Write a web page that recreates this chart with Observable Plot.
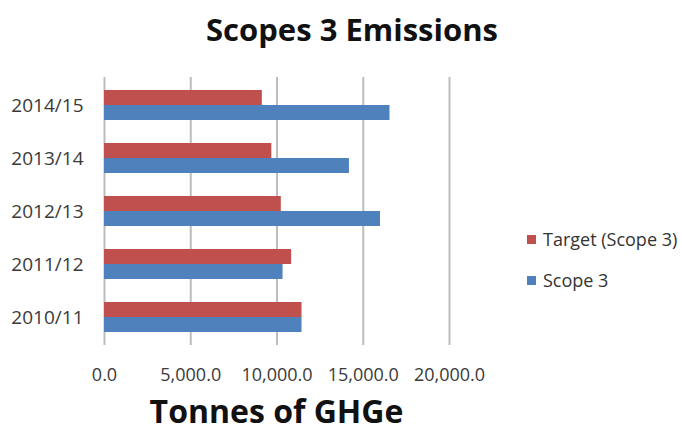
<!DOCTYPE html>
<html><head><meta charset="utf-8">
<script src="https://cdn.jsdelivr.net/npm/d3@7"></script>
<script src="https://cdn.jsdelivr.net/npm/@observablehq/plot@0.6"></script>
<style>
body{margin:0;background:#fff;font-family:"Open Sans",sans-serif;}
#wrap{position:relative;width:682px;height:432px;overflow:hidden;}
#title{height:60px;line-height:58px;padding-left:22px;text-align:center;font-weight:bold;font-size:31px;color:#111;box-sizing:border-box;}
#chart{height:332px;}
#xlabel{position:absolute;left:104px;width:345px;top:391px;height:40px;line-height:40px;text-align:center;font-weight:bold;font-size:32px;color:#111;}
#legend{position:absolute;left:527px;top:228px;font-size:18px;color:#333;}
.item{display:flex;align-items:center;height:22px;margin-bottom:19px;white-space:nowrap;}
.sw{width:9px;height:9px;margin-right:7px;}
</style></head><body>
<div id="wrap">
<div id="title">Scopes 3 Emissions</div>
<div id="chart"></div>
<div id="xlabel">Tonnes of GHGe</div>
<div id="legend"></div>
</div>
<script>
const years = ["2010/11", "2011/12", "2012/13", "2013/14", "2014/15"];
const target = [11450, 10850, 10250, 9700, 9150];
const scope3 = [11450, 10350, 16000, 14200, 16550];
const seriesNames = ["Target (Scope 3)", "Scope 3"];
const seriesColors = ["#C0504D", "#4F81BD"];
const xTicks = [0, 5000, 10000, 15000, 20000];

const rows = years.map((y, i) => ({year: y, target: target[i], scope3: scope3[i]}));

const plot = Plot.plot({
  width: 682, height: 332,
  marginLeft: 104, marginRight: 233, marginTop: 17, marginBottom: 47,
  style: {fontFamily: '"Open Sans", sans-serif', fontSize: "18px", color: "#3a3a3a", background: "transparent"},
  x: {domain: [0, 20000]},
  y: {domain: years.slice().reverse(), paddingInner: 0.44, paddingOuter: 0.22, align: 0.5},
  marks: [
    Plot.gridX(xTicks, {stroke: "#bdbdbd", strokeOpacity: 1, strokeWidth: 2}),
    Plot.barX(rows, {x: "target", y: "year", fill: seriesColors[0], insetBottom: 15}),
    Plot.barX(rows, {x: "scope3", y: "year", fill: seriesColors[1], insetTop: 15}),
    Plot.axisX(xTicks, {tickSize: 0, tickPadding: 23, tickFormat: d3.format(",.1f"), label: null, line: true, stroke: "#bdbdbd", strokeWidth: 2, strokeOpacity: 1, fill: "#3a3a3a"}),
    Plot.axisY({tickSize: 0, tickPadding: 21, label: null, fill: "#3a3a3a", fontSize: 19})
  ]
});
document.getElementById("chart").appendChild(plot);

const leg = document.getElementById("legend");
seriesNames.forEach((n, i) => {
  const d = document.createElement("div");
  d.className = "item";
  d.innerHTML = `<span class="sw" style="background:${seriesColors[i]}"></span><span>${n}</span>`;
  leg.appendChild(d);
});
</script>
</body></html>
